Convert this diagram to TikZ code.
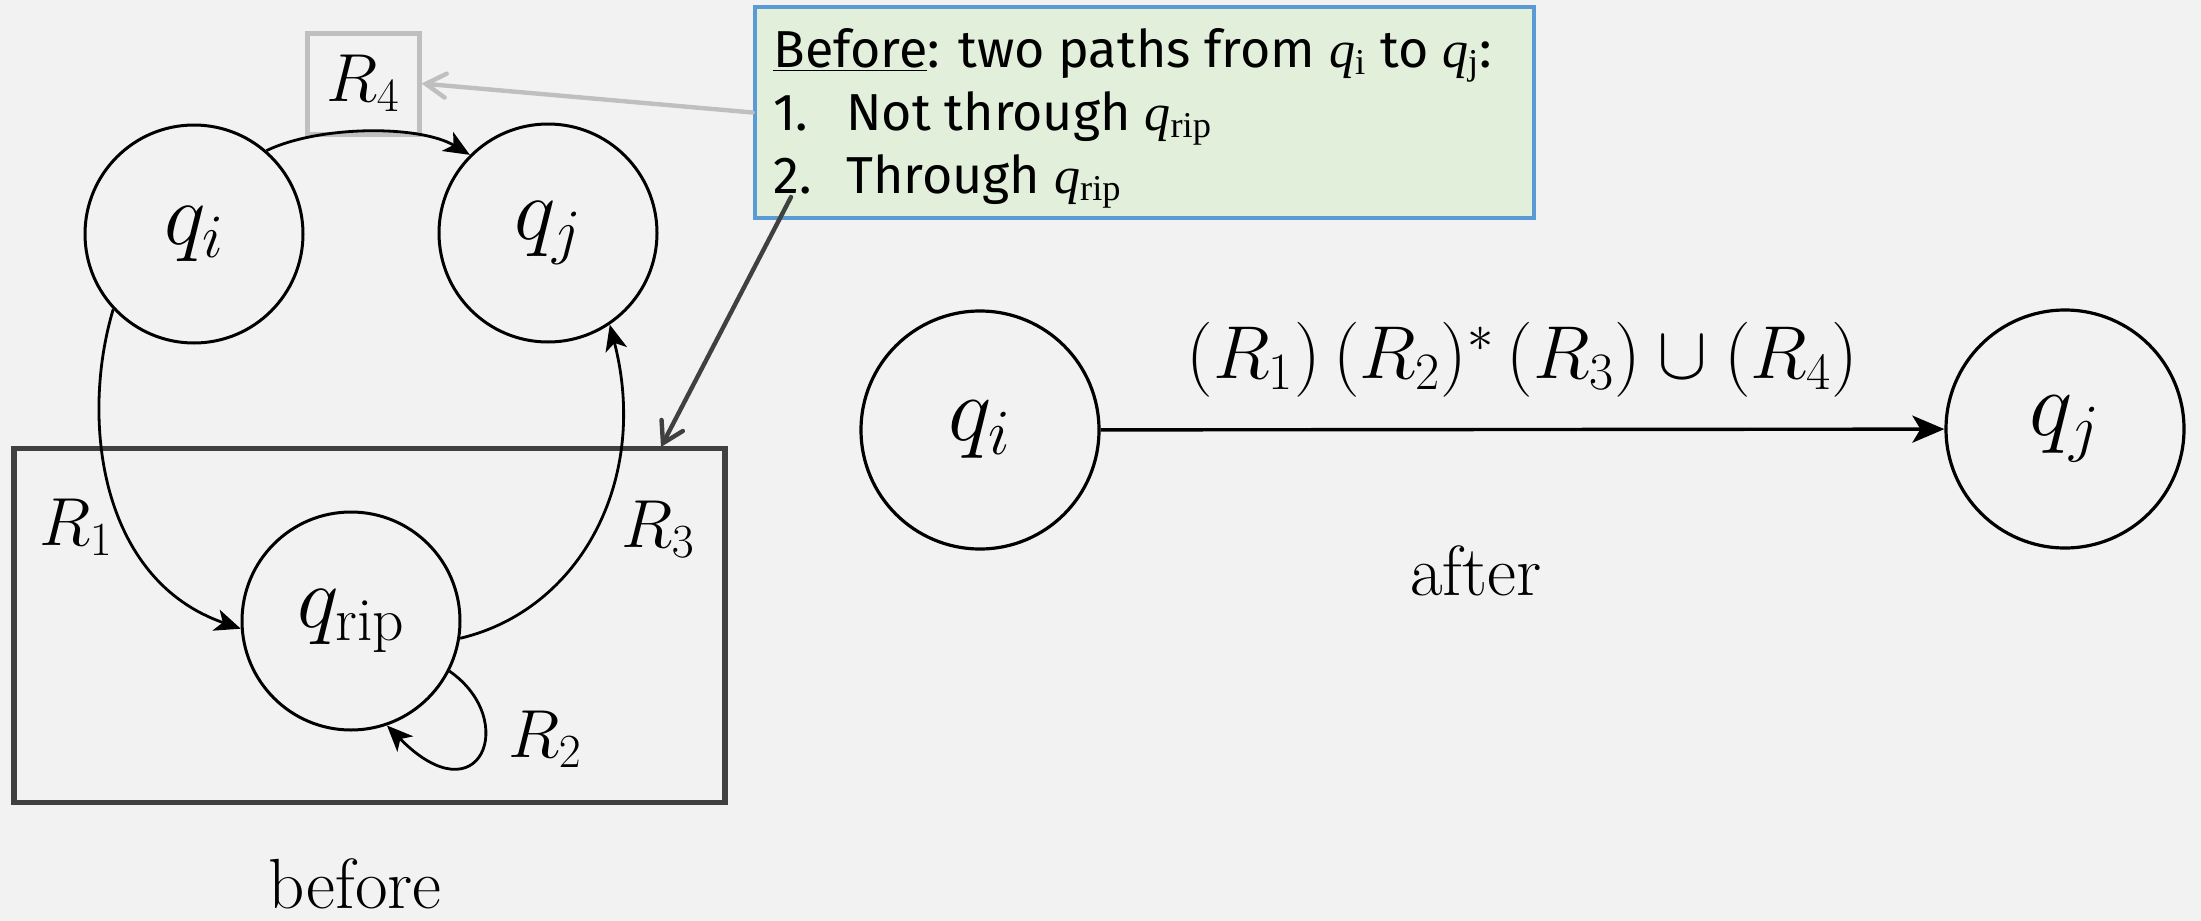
\RequirePackage{fix-cm}
\documentclass[tikz,border=0pt]{standalone}
\usepackage{fontspec}
\usetikzlibrary{arrows.meta}
\newfontfamily\callfont{Fira Sans}
\newfontfamily\qfont{Liberation Serif}
\newcommand\myq[1]{{\qfont\itshape q}\textsubscript{\qfont #1}}
\definecolor{bgc}{HTML}{F2F2F2}
\definecolor{dgray}{HTML}{404040}
\definecolor{lgray}{HTML}{BFBFBF}
\definecolor{cblue}{HTML}{5B9BD5}
\definecolor{cgreen}{HTML}{E2EFDA}
\tikzset{
  st/.style={circle, draw=black, line width=1.5pt, minimum size=109pt, inner sep=0pt, font=\fontsize{44}{52}\selectfont},
  stb/.style={st, minimum size=119pt, line width=1.6pt, font=\fontsize{46}{54}\selectfont},
  edge/.style={line width=1.4pt, -{Stealth[length=13pt,width=11pt,inset=3.5pt]}},
  lab/.style={font=\fontsize{34}{40}\selectfont},
  capt/.style={font=\fontsize{35.5}{42}\selectfont},
  calltext/.style={anchor=base west, inner sep=0pt, font=\callfont\fontsize{26}{31}\selectfont},
  pointer/.style={line width=2.2pt, line cap=round, -{Straight Barb[length=10pt,width=12pt,line cap=round]}},
}
\begin{document}
\begin{tikzpicture}[x=0.5pt,y=-0.5pt]
\useasboundingbox (0,0) rectangle (2201,921);
\fill[bgc] (0,0) rectangle (2201,921);
% group box
\node[draw=dgray, line width=2.6pt, minimum width=355.5pt, minimum height=177pt, inner sep=0pt] (grp) at (369.5,625.5) {};
% before states
\node[st] (qi) at (194,234) {$q_i$};
\node[st] (qj) at (548,233) {$q_j$};
\node[st] (qr) at (351,621) {$q_{\mathrm{rip}}$};
\node[draw=lgray, line width=2.5pt, minimum width=56pt, minimum height=50.5pt, inner sep=0pt, lab] (r4) at (363,83.5) {$R_4$};
\draw[edge] (qi.49) .. controls (320,125) and (420,125) .. (qj.135);
\draw[edge] (qi.-137) .. controls (80,420) and (100,580) .. (qr.184);
\draw[edge] (qr.-9) .. controls (580,610) and (650,480) .. (qj.-56);
\draw[edge] (qr.-27) .. controls (520,720) and (480,820) .. (qr.-71);
\node[lab] (r1) at (76,527) {$R_1$};
\node[lab] (r3) at (658,529) {$R_3$};
\node[lab] (r2) at (545,739) {$R_2$};
\node[capt] (before) at (355,884) {before};
% after
\node[stb] (ai) at (980,430) {$q_i$};
\node[stb] (aj) at (2065,429) {$q_j$};
\draw[line width=1.7pt, -{Stealth[length=16pt,width=13.5pt,inset=4pt]}] (ai) -- (aj) node[midway, above=12pt, font=\fontsize{37.5}{44}\selectfont] (lbl) {$(R_1)\,(R_2)^{*}\,(R_3)\cup(R_4)$};
\node[capt] (after) at (1476,571) {after};
% callout
\node[draw=cblue, fill=cgreen, line width=2.4pt, minimum width=389.5pt, minimum height=105.5pt, inner sep=0pt] (call) at (1144.5,112.5) {};
\node[calltext] (l1) at (773,67) {\underline{Before}: two paths from \myq{i} to \myq{j}:};
\node[calltext] (l2) at (773,130) {\makebox[36.5pt][l]{1.}Not through \myq{rip}};
\node[calltext] (l3) at (773,193) {\makebox[36.5pt][l]{2.}Through \myq{rip}};
\draw[pointer, lgray] (call.west) -- (r4.east);
\coordinate (s2) at (791,197);
\coordinate (t2) at (661,447);
\draw[pointer, dgray] (s2) -- (t2);
\end{tikzpicture}
\end{document}
